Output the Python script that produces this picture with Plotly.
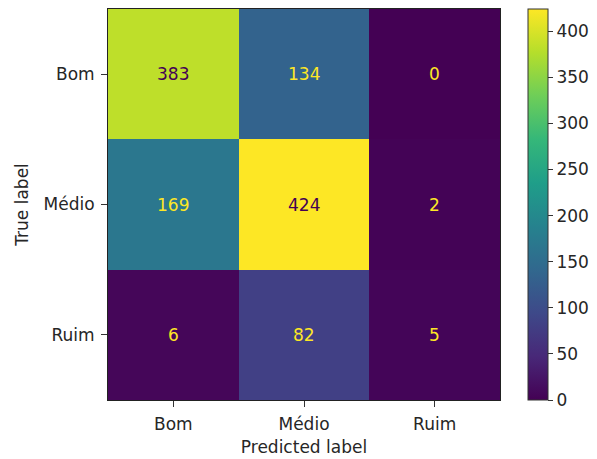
import plotly.graph_objects as go

true_labels = ["Bom", "Médio", "Ruim"]
pred_labels = ["Bom", "Médio", "Ruim"]
row_bom = [383, 134, 0]
row_medio = [169, 424, 2]
row_ruim = [6, 82, 5]
cbar_ticks = [0, 50, 100, 150, 200, 250, 300, 350, 400]

z = [row_bom, row_medio, row_ruim]
zmin = min(min(r) for r in z)
zmax = max(max(r) for r in z)
thresh = (zmin + zmax) / 2.0

FS = 17
FONT = "DejaVu Sans"
TXT = "#262626"

fig = go.Figure()
fig.add_trace(go.Heatmap(
    z=z, x=pred_labels, y=true_labels,
    colorscale="Viridis", zmin=zmin, zmax=zmax,
    showscale=True,
    colorbar=dict(
        x=1.071, xanchor="left", y=0.5, yanchor="middle", len=1.0, lenmode="fraction",
        thickness=20, thicknessmode="pixels",
        outlinewidth=1, outlinecolor="#333333",
        tickvals=cbar_ticks, ticks="outside", ticklen=5, tickcolor="#333333",
        tickprefix="\u00a0",
        tickfont=dict(family=FONT, size=FS, color=TXT),
        xpad=0, ypad=0,
    ),
    hoverinfo="skip",
))

for i, row in enumerate(z):
    for j, v in enumerate(row):
        color = "#440154" if v >= thresh else "#fde725"
        fig.add_annotation(x=pred_labels[j], y=true_labels[i], text=str(v),
                           showarrow=False,
                           font=dict(family=FONT, size=FS, color=color))

fig.update_xaxes(
    title=dict(text="Predicted label", font=dict(family=FONT, size=FS, color=TXT), standoff=7),
    tickfont=dict(family=FONT, size=FS, color=TXT),
    ticks="outside", ticklen=6, tickcolor="#333333", ticklabelstandoff=3,
    showline=True, linecolor="#222222", linewidth=1, mirror=True,
    showgrid=False, zeroline=False,
)
fig.update_yaxes(
    title=dict(text="True label", font=dict(family=FONT, size=FS, color=TXT), standoff=10),
    tickfont=dict(family=FONT, size=FS, color=TXT),
    ticks="outside", ticklen=6, tickcolor="#333333", ticklabelstandoff=3,
    showline=True, linecolor="#222222", linewidth=1, mirror=True,
    showgrid=False, zeroline=False, autorange="reversed",
)

fig.update_layout(
    width=597, height=459,
    margin=dict(l=100, r=105, t=1, b=67),
    paper_bgcolor="white", plot_bgcolor="white",
    font=dict(family=FONT, size=FS, color=TXT),
)

fig.write_html("out.html")
